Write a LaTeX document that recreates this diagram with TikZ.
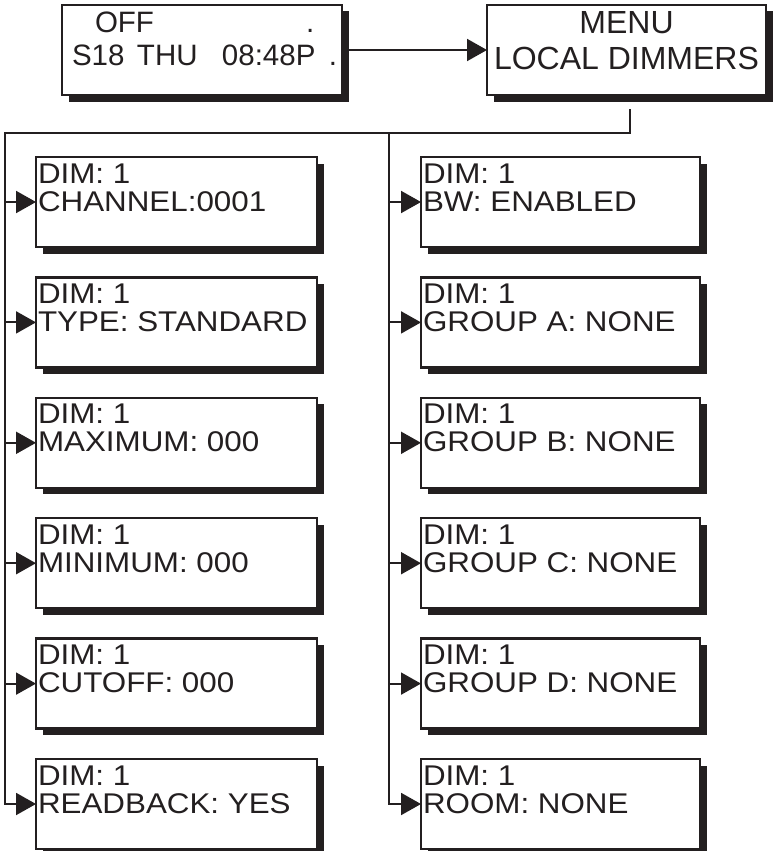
\documentclass[tikz,border=0pt]{standalone}
\usepackage{fontspec}
\setmainfont{Liberation Sans}[FakeStretch=1.1]
\newfontfamily\plainsans{Liberation Sans}
\usetikzlibrary{arrows.meta,shadows}
\definecolor{ink}{HTML}{231F20}
\begin{document}
\begin{tikzpicture}[x=1pt,y=1pt,
 dbox/.style={draw=ink, line width=2.4pt, fill=white, rectangle, anchor=north west, inner sep=0pt, outer sep=0pt, minimum height=90pt,
   drop shadow={shadow xshift=6.5pt, shadow yshift=-6.5pt, fill=ink, opacity=1}},
 lbox/.style={dbox, minimum width=281pt},
 rbox/.style={dbox, minimum width=279pt},
 txt/.style={text=ink, inner sep=0pt, outer sep=0pt, align=left, anchor=north west, font=\fontsize{28.5}{28}\selectfont},
 conn/.style={draw=ink, line width=2pt},
 arr/.style={conn, -{Triangle[length=20pt,width=22pt]}},
]
\useasboundingbox (0,0) rectangle (773,-851);

% top boxes
\node[dbox, minimum width=280pt] (disp) at (62,-5) {};
\node[dbox, minimum width=279pt] (menu) at (487,-5) {};
\node[txt, anchor=base west, font=\plainsans\fontsize{29.5}{28}\selectfont] (d1) at ([xshift=33,yshift=-28]disp.north west) {\makebox[211pt][l]{OFF}.};
\node[txt, anchor=base west, font=\plainsans\fontsize{29.5}{28}\selectfont] (d2) at ([xshift=10,yshift=-61]disp.north west) {\makebox[65pt][l]{S18}\makebox[85pt][l]{THU}\makebox[107pt][l]{08:48P}.};
\node[txt, align=center, anchor=north, font=\plainsans\fontsize{32}{36}\selectfont] (mt) at ([yshift=-6]menu.north) {MENU\\LOCAL DIMMERS};

% left column
\node[lbox] (l1) at (36,-157) {};
\node[lbox] (l2) at (36,-277.4) {};
\node[lbox] (l3) at (36,-397.8) {};
\node[lbox] (l4) at (36,-518.2) {};
\node[lbox] (l5) at (36,-638.6) {};
\node[lbox] (l6) at (36,-759) {};
\node[txt] (lt1) at ([xshift=2,yshift=-6.5]l1.north west) {DIM: 1\\CHANNEL:0001};
\node[txt] (lt2) at ([xshift=2,yshift=-6.5]l2.north west) {DIM: 1\\TYPE: STANDARD};
\node[txt] (lt3) at ([xshift=2,yshift=-6.5]l3.north west) {DIM: 1\\MAXIMUM: 000};
\node[txt] (lt4) at ([xshift=2,yshift=-6.5]l4.north west) {DIM: 1\\MINIMUM: 000};
\node[txt] (lt5) at ([xshift=2,yshift=-6.5]l5.north west) {DIM: 1\\CUTOFF: 000};
\node[txt] (lt6) at ([xshift=2,yshift=-6.5]l6.north west) {DIM: 1\\READBACK: YES};

% right column
\node[rbox] (r1) at (421,-157) {};
\node[rbox] (r2) at (421,-277.4) {};
\node[rbox] (r3) at (421,-397.8) {};
\node[rbox] (r4) at (421,-518.2) {};
\node[rbox] (r5) at (421,-638.6) {};
\node[rbox] (r6) at (421,-759) {};
\node[txt] (rt1) at ([xshift=2,yshift=-6.5]r1.north west) {DIM: 1\\BW: ENABLED};
\node[txt] (rt2) at ([xshift=2,yshift=-6.5]r2.north west) {DIM: 1\\GROUP A: NONE};
\node[txt] (rt3) at ([xshift=2,yshift=-6.5]r3.north west) {DIM: 1\\GROUP B: NONE};
\node[txt] (rt4) at ([xshift=2,yshift=-6.5]r4.north west) {DIM: 1\\GROUP C: NONE};
\node[txt] (rt5) at ([xshift=2,yshift=-6.5]r5.north west) {DIM: 1\\GROUP D: NONE};
\node[txt] (rt6) at ([xshift=2,yshift=-6.5]r6.north west) {DIM: 1\\ROOM: NONE};

% connectors
\draw[arr] (disp.east) -- (menu.west);
\coordinate (mdrop) at (630,-109);
\coordinate (busL) at (5,-133);
\coordinate (busR) at (389,-133);
\draw[arr] (mdrop) |- (busL) |- (l6.west);
\draw[arr] (busR) |- (r6.west);
\foreach \i in {1,...,5}{
  \draw[arr] (busL |- l\i.west) -- (l\i.west);
  \draw[arr] (busR |- r\i.west) -- (r\i.west);
}
\end{tikzpicture}
\end{document}
